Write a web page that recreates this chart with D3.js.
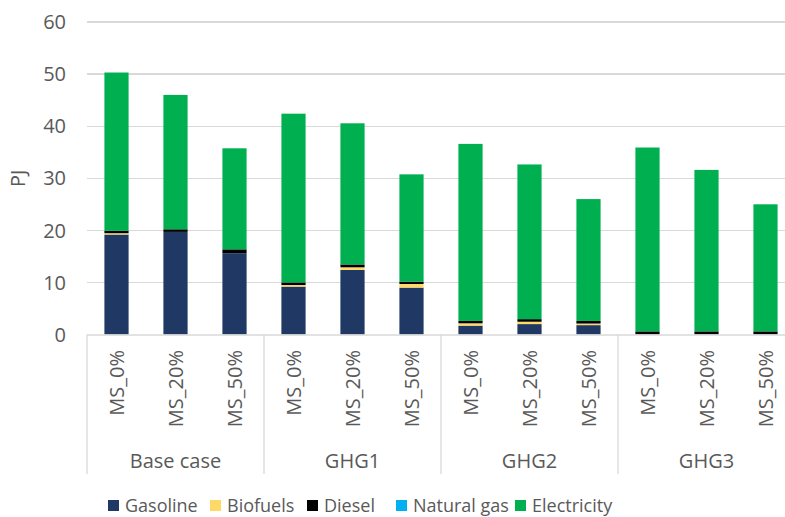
<!DOCTYPE html>
<html>
<head>
<meta charset="utf-8">
<title>Transport fuel use by scenario</title>
<script src="https://cdn.jsdelivr.net/npm/d3@7"></script>
<style>
body { margin: 0; background: #fff; font-family: "Open Sans", sans-serif; }
.grid line { stroke: #d9d9d9; stroke-width: 1.3; shape-rendering: crispEdges; }
.lbl { fill: #595959; font-size: 20px; }
.leg { fill: #595959; font-size: 18px; }
</style>
</head>
<body>
<script>
// scenario groups and the bars inside each
var groups = ["Base case", "GHG1", "GHG2", "GHG3"];
var shares = ["MS_0%", "MS_20%", "MS_50%"];
var fuels = ["Gasoline", "Biofuels", "Diesel", "Natural gas", "Electricity"];
var colors = ["#1f3864", "#ffd966", "#000000", "#00b0f0", "#00b050"];

// values in PJ, one entry per bar (group x share order)
var gasoline    = [19.2, 19.7, 15.6,  9.2, 12.4,  9.0,  1.7,  2.0,  1.8,  0.1,  0.1,  0.1];
var biofuels    = [ 0.25, 0.0,  0.0,  0.3,  0.5,  0.7,  0.45, 0.45, 0.3,  0.0,  0.0,  0.0];
var diesel      = [ 0.45, 0.5,  0.75, 0.5,  0.55, 0.45, 0.45, 0.5,  0.5,  0.5,  0.5,  0.5];
var naturalGas  = [ 0.0,  0.0,  0.0,  0.0,  0.0,  0.0,  0.0,  0.0,  0.0,  0.0,  0.0,  0.0];
var electricity = [30.4, 25.8, 19.4, 32.4, 27.1, 20.6, 34.0, 29.7, 23.4, 35.3, 31.0, 24.4];
var yTicks = [0, 10, 20, 30, 40, 50, 60];

var series = [gasoline, biofuels, diesel, naturalGas, electricity];
var bars = [];
groups.forEach(function(g, gi) {
  shares.forEach(function(s, si) {
    var i = gi * shares.length + si;
    var row = { key: g + "|" + s, group: g, share: s };
    fuels.forEach(function(f, fi) { row[f] = series[fi][i]; });
    bars.push(row);
  });
});

var W = 785, H = 517;
var plotL = 87, plotR = 795, plotT = 22, plotB = 334.5;

var svg = d3.select("body").append("svg")
  .attr("width", W).attr("height", H);

var x = d3.scaleBand().domain(bars.map(function(d) { return d.key; }))
  .range([plotL, plotR]).paddingInner(0.59).paddingOuter(0.295);
var y = d3.scaleLinear().domain([0, 60]).range([plotB, plotT]);

// gridlines
svg.append("g").attr("class", "grid")
  .selectAll("line").data(yTicks.slice(1)).enter().append("line")
  .attr("x1", plotL).attr("x2", W)
  .attr("y1", function(d) { return y(d); }).attr("y2", function(d) { return y(d); });

// tick labels
svg.append("g").selectAll("text").data(yTicks).enter().append("text")
  .attr("class", "lbl")
  .attr("x", 66).attr("y", function(d) { return y(d); })
  .attr("dy", "0.36em")
  .attr("text-anchor", "end")
  .text(function(d) { return d; });

svg.append("text").attr("class", "lbl")
  .attr("transform", "translate(25," + y(30) + ") rotate(-90)")
  .attr("text-anchor", "middle")
  .text("PJ");

// stacked bars
var stack = d3.stack().keys(fuels)(bars);
svg.append("g").selectAll("g").data(stack).enter().append("g")
  .attr("fill", function(d, i) { return colors[i]; })
  .selectAll("rect").data(function(d) { return d; }).enter().append("rect")
  .attr("x", function(d) { return x(d.data.key); })
  .attr("width", x.bandwidth())
  .attr("y", function(d) { return y(d[1]); })
  .attr("height", function(d) { return y(d[0]) - y(d[1]); });

// category axis
var axisCol = "#d9d9d9";
svg.append("line").attr("x1", plotL).attr("x2", W)
  .attr("y1", plotB + 0.5).attr("y2", plotB + 0.5)
  .attr("stroke", axisCol).attr("stroke-width", 1.3);

var groupW = x.step() * shares.length;
svg.append("g").selectAll("line").data(d3.range(groups.length + 1)).enter().append("line")
  .attr("x1", function(i) { return plotL + i * groupW; })
  .attr("x2", function(i) { return plotL + i * groupW; })
  .attr("y1", plotB).attr("y2", 474)
  .attr("stroke", axisCol).attr("stroke-width", 1.3);

svg.append("g").selectAll("text").data(bars).enter().append("text")
  .attr("class", "lbl")
  .attr("transform", function(d) {
    return "translate(" + (x(d.key) + x.bandwidth() / 2) + ",350) rotate(-90)";
  })
  .attr("text-anchor", "end")
  .attr("dy", "0.36em")
  .text(function(d) { return d.share; });

svg.append("g").selectAll("text").data(groups).enter().append("text")
  .attr("class", "lbl")
  .attr("x", function(g, i) { return plotL + (i + 0.5) * groupW; })
  .attr("y", 468)
  .attr("text-anchor", "middle")
  .text(function(g) { return g; });

// legend
var legX = [108, 210, 307, 396, 515];
var leg = svg.append("g").selectAll("g").data(fuels).enter().append("g")
  .attr("transform", function(d, i) { return "translate(" + legX[i] + ",500)"; });
leg.append("rect").attr("width", 11).attr("height", 11)
  .attr("fill", function(d, i) { return colors[i]; });
leg.append("text").attr("class", "leg")
  .attr("x", 17).attr("y", 6).attr("dy", "0.36em")
  .text(function(d) { return d; });
</script>
</body>
</html>
